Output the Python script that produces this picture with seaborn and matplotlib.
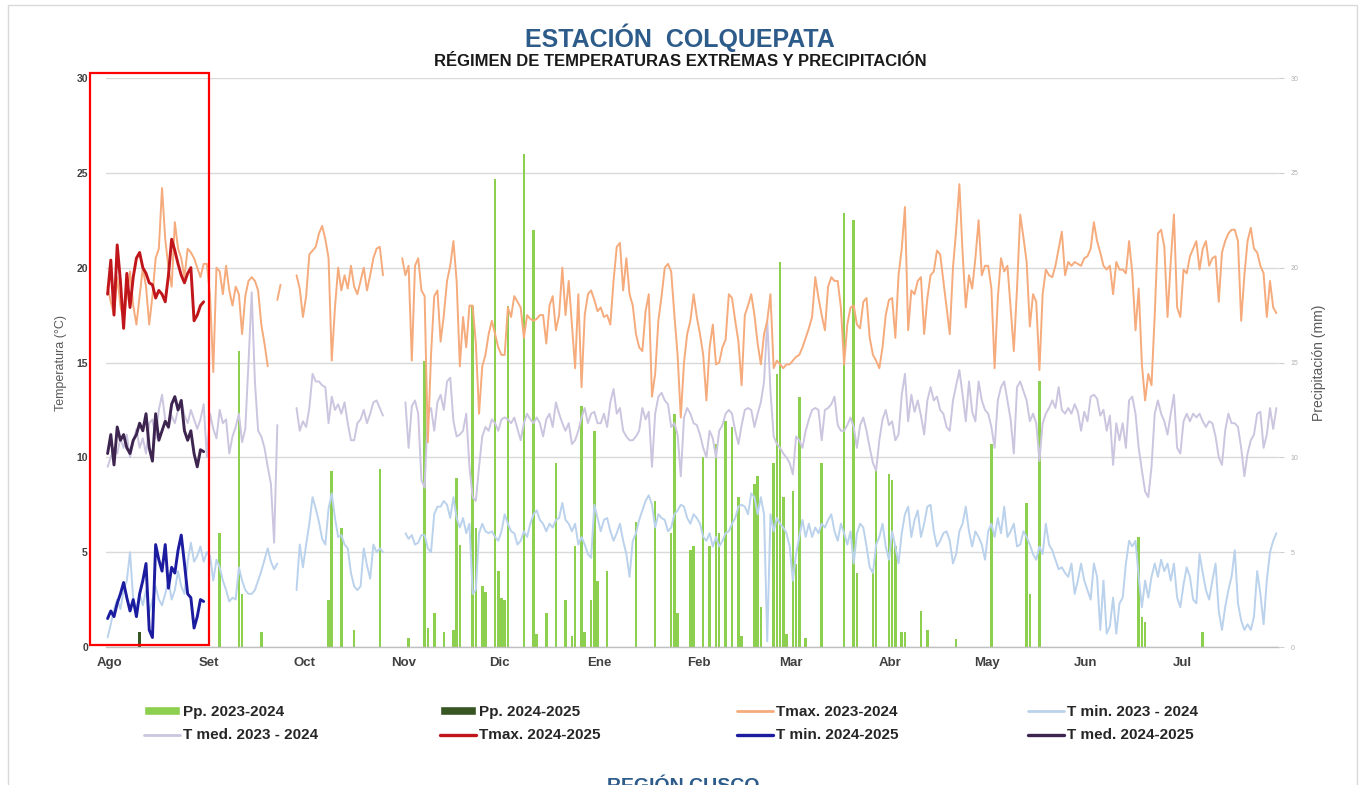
import numpy as np
import pandas as pd
import matplotlib
matplotlib.use("Agg")
import matplotlib.pyplot as plt
from matplotlib.patches import Rectangle, Patch
from matplotlib.lines import Line2D
import seaborn as sns

N = None
INICIO_2324 = "2023-08-01"
FIN_2324 = "2024-07-31"
INICIO_2425 = "2024-08-01"
MESES = ["Ago", "Set", "Oct", "Nov", "Dic", "Ene", "Feb", "Mar", "Abr", "May", "Jun", "Jul"]

# ---- Campaña 2023-2024 (diario, 1 ago 2023 - 31 jul 2024) ----
TMAX_2324 = [
    # Ago
    19.0, 18.2, 17.5, 19.5, 18.0, 17.2, 18.5, 19.8, 18.0, 17.0, 18.5, 20.0, 19.0, 17.0, 18.5, 20.5,
    21.0, 24.2, 21.5, 20.0, 19.0, 22.4, 21.0, 20.5, 19.5, 21.0, 20.8, 20.5, 20.0, 19.5, 20.2,
    # Set
    20.2, 18.5, 14.5, 20.0, 19.8, 18.6, 20.1, 18.8, 18.0, 19.0, 18.6, 16.5, 18.5, 19.3, 19.5,
    19.3, 18.8, 17.0, 16.0, 14.8, N, N, 18.3, 19.1, N, N, N, N, 19.6, 18.9,
    # Oct
    17.4, 18.5, 20.7, 20.9, 21.1, 21.8, 22.2, 21.5, 20.5, 15.1, 17.9, 20.0, 18.8, 19.6, 18.9, 20.1,
    19.0, 18.6, 19.3, 20.0, 18.8, 19.6, 20.5, 21.0, 21.1, 19.6, N, N, N, N, N,
    # Nov
    20.5, 19.6, 20.1, 15.1, 20.1, 20.5, 18.8, 18.5, 10.8, 15.4, 18.5, 18.8, 16.1, 17.5, 19.3,
    20.1, 21.4, 19.3, 14.8, 17.4, 15.8, 18.0, 18.0, 16.0, 12.3, 14.8, 15.4, 16.5, 17.2, 16.5,
    # Dic
    15.8, 15.4, 15.4, 17.9, 17.4, 18.5, 18.2, 17.9, 16.3, 17.5, 17.3, 17.2, 17.3, 17.5, 17.5, 16.0,
    18.0, 18.5, 16.7, 17.5, 20.0, 17.5, 19.3, 17.0, 14.7, 18.6, 13.7, 17.5, 18.6, 18.8, 18.3,
    # Ene
    17.7, 17.9, 17.4, 17.5, 17.0, 19.3, 21.1, 21.3, 18.8, 20.5, 18.6, 18.0, 16.5, 15.8, 15.6, 17.7,
    18.6, 13.2, 14.4, 17.2, 18.5, 20.0, 20.2, 19.8, 17.5, 15.4, 12.1, 15.0, 16.5, 17.2, 18.6,
    # Feb
    17.4, 16.5, 15.4, 13.0, 15.8, 17.0, 14.9, 15.0, 15.8, 16.2, 18.6, 18.4, 17.2, 16.1, 13.8,
    17.5, 18.0, 18.6, 17.5, 16.0, 14.9, 16.5, 17.2, 18.6, 14.7, 15.1, 14.9, 14.7, 14.9,
    # Mar
    14.9, 15.1, 15.3, 15.4, 15.8, 16.3, 16.8, 17.4, 19.5, 18.4, 17.5, 16.7, 19.0, 19.5, 19.3, 19.3,
    17.9, 14.9, 17.0, 17.9, 18.0, 17.0, 16.8, 18.2, 18.4, 16.3, 15.4, 15.1, 14.7, 15.8, 17.5,
    # Abr
    18.3, 18.4, 16.3, 19.6, 21.0, 23.2, 16.7, 18.8, 18.6, 19.3, 19.5, 16.5, 18.4, 19.6, 19.8,
    20.9, 20.7, 19.3, 17.9, 16.5, 20.0, 22.0, 24.4, 20.8, 17.9, 19.6, 18.9, 20.5, 22.5, 19.6,
    # May
    20.1, 20.1, 18.9, 14.7, 18.4, 20.5, 19.8, 20.1, 17.9, 15.6, 18.9, 22.8, 21.6, 20.3, 16.9, 18.6,
    18.2, 14.6, 18.6, 19.9, 19.6, 19.5, 20.1, 21.0, 21.9, 19.6, 20.3, 20.1, 20.3, 20.2, 20.1,
    # Jun
    20.5, 20.6, 21.0, 22.4, 21.4, 20.8, 20.1, 19.9, 20.1, 18.6, 20.3, 19.9, 19.9, 19.7, 21.4,
    19.7, 16.7, 18.9, 14.9, 13.0, 14.4, 13.8, 17.5, 21.8, 22.0, 21.1, 17.4, 20.3, 22.8, 17.9,
    # Jul
    17.4, 19.9, 19.7, 20.6, 21.0, 21.4, 19.9, 21.0, 21.4, 20.1, 20.5, 20.6, 18.2, 20.8, 21.4, 21.8,
    22.0, 22.0, 21.4, 17.2, 19.6, 21.4, 22.1, 21.0, 20.8, 20.1, 19.7, 17.4, 19.3, 17.9, 17.6,
]

TMED_2324 = [
    # Ago
    9.5, 10.0, 10.5, 10.2, 11.0, 10.5, 11.2, 10.0, 10.8, 11.5, 10.5, 11.0, 10.2, 11.8, 12.0, 11.0,
    12.5, 13.3, 12.0, 11.5, 12.2, 11.8, 12.5, 13.0, 12.2, 11.8, 12.5, 12.0, 11.5, 12.0, 12.8,
    # Set
    10.0, 12.3, 11.5, 11.0, 12.5, 11.8, 12.0, 10.2, 11.1, 11.6, 12.3, 10.8, 11.5, 15.0, 18.7,
    14.0, 11.4, 11.1, 10.5, 9.5, 8.6, 5.5, 11.7, N, N, N, N, N, 12.6, 11.4,
    # Oct
    11.9, 11.6, 12.6, 14.4, 14.0, 14.0, 13.8, 13.7, 11.8, 13.2, 12.5, 12.8, 12.3, 12.9, 11.8, 10.9,
    10.9, 11.8, 12.0, 12.5, 11.8, 12.3, 12.9, 13.0, 12.6, 12.2, N, N, N, N, N,
    # Nov
    N, 12.9, 10.5, 12.7, 13.0, 12.3, 8.8, 8.4, 12.3, 12.6, 11.4, 12.9, 13.3, 12.5, 14.0,
    14.2, 11.9, 11.1, 11.2, 11.4, 12.3, 9.5, 7.9, 7.7, 9.5, 11.1, 11.6, 11.4, 12.0, 11.8,
    # Dic
    11.4, 12.0, 12.1, 12.0, 11.8, 12.1, 11.5, 10.9, 11.8, 12.3, 12.0, 11.8, 12.1, 11.8, 11.1, 12.0,
    12.3, 11.6, 12.9, 12.3, 11.8, 11.4, 11.8, 10.7, 10.9, 11.4, 12.1, 12.6, 11.8, 12.3, 12.4,
    # Ene
    11.8, 11.8, 12.3, 11.6, 12.9, 13.6, 12.3, 12.6, 11.4, 11.1, 10.9, 10.9, 11.1, 11.4, 12.6, 12.0,
    12.4, 9.5, 12.3, 13.2, 13.4, 13.0, 12.8, 11.6, 11.8, 11.2, 9.0, 12.1, 12.6, 12.3, 11.8,
    # Feb
    11.7, 11.2, 10.5, 10.0, 11.4, 11.0, 10.0, 11.4, 11.7, 12.3, 12.5, 12.3, 11.4, 10.7, 11.7,
    12.5, 12.6, 12.5, 11.6, 12.3, 12.9, 14.0, 17.2, 13.5, 11.1, 10.7, 10.5, 10.2, 10.0,
    # Mar
    9.7, 9.1, 11.1, 10.9, 10.5, 11.4, 12.0, 12.5, 12.6, 12.5, 10.9, 12.5, 12.6, 12.8, 13.2, 11.7,
    11.4, 11.4, 11.7, 12.1, 11.6, 10.5, 11.7, 12.1, 11.4, 10.5, 9.7, 9.3, 10.9, 12.0, 12.5,
    # Abr
    11.7, 11.9, 10.9, 11.2, 13.3, 14.4, 11.9, 13.3, 12.4, 13.0, 12.2, 11.2, 13.0, 13.7, 13.0,
    13.2, 12.5, 12.3, 11.6, 11.4, 13.0, 13.8, 14.6, 13.3, 11.9, 14.0, 12.4, 11.9, 14.0, 13.0,
    # May
    12.5, 12.3, 11.6, 10.5, 13.0, 13.7, 14.0, 13.0, 12.0, 10.2, 13.7, 14.0, 13.5, 13.0, 11.9, 12.3,
    11.8, 9.8, 11.8, 12.3, 12.6, 13.0, 12.6, 13.7, 12.5, 12.3, 12.6, 12.3, 12.8, 12.4, 11.4,
    # Jun
    12.4, 11.9, 13.2, 13.3, 13.1, 12.2, 12.5, 11.4, 12.2, 9.6, 11.8, 10.9, 11.8, 10.5, 13.0,
    13.2, 12.3, 10.5, 9.3, 8.2, 7.9, 9.5, 12.3, 13.0, 12.3, 11.9, 11.2, 12.3, 13.3, 10.5,
    # Jul
    10.2, 11.9, 12.3, 11.9, 12.3, 12.1, 12.3, 11.9, 11.6, 11.9, 11.8, 11.1, 10.0, 9.6, 11.4, 12.3,
    11.8, 11.8, 11.6, 10.5, 9.0, 10.2, 10.9, 11.2, 12.3, 12.4, 10.5, 11.2, 12.6, 11.5, 12.6,
]

TMIN_2324 = [
    # Ago
    0.5, 1.2, 2.0, 2.5, 2.0, 3.0, 3.5, 5.0, 2.5, 2.0, 2.8, 2.2, 3.0, 1.8, 2.5, 3.2,
    2.5, 2.2, 2.8, 3.5, 2.5, 3.0, 4.0, 3.2, 2.8, 4.5, 5.5, 4.5, 4.8, 5.3, 4.5,
    # Set
    5.0, 4.8, 3.5, 4.6, 4.2, 3.5, 3.0, 2.4, 2.6, 2.5, 4.2, 3.5, 3.0, 2.8, 2.8,
    3.0, 3.5, 4.0, 4.6, 5.2, 4.5, 4.1, 4.4, N, N, N, N, N, 3.0, 5.4,
    # Oct
    4.2, 5.4, 6.5, 7.9, 7.3, 6.6, 5.7, 5.4, 7.3, 8.1, 6.8, 5.8, 5.9, 5.4, 5.2, 3.9,
    3.2, 3.0, 3.2, 5.2, 4.3, 3.6, 5.4, 5.0, 5.2, 5.0, N, N, N, N, N,
    # Nov
    N, 6.0, 5.7, 5.9, 5.4, 5.5, 5.9, 5.9, 5.2, 5.0, 7.0, 7.4, 7.4, 7.7, 7.5,
    6.8, 7.9, 6.8, 6.3, 6.8, 6.0, 6.5, 2.8, 3.0, 6.0, 6.5, 6.1, 6.0, 6.1, 5.8,
    # Dic
    5.6, 6.1, 7.0, 6.5, 6.1, 6.0, 5.4, 5.6, 6.1, 5.8, 6.5, 7.0, 7.2, 6.7, 6.5, 6.1,
    6.5, 6.3, 6.7, 6.8, 7.6, 6.7, 6.5, 6.1, 6.5, 5.4, 5.8, 5.4, 4.9, 4.7, 7.5,
    # Ene
    6.8, 6.1, 6.7, 6.8, 6.1, 5.6, 6.0, 6.5, 5.6, 4.9, 3.7, 5.6, 6.0, 6.7, 7.2, 7.7,
    8.0, 7.5, 6.3, 7.0, 6.8, 6.7, 6.1, 6.3, 7.0, 7.2, 7.5, 7.4, 6.8, 6.5, 7.0,
    # Feb
    6.8, 6.5, 5.8, 5.6, 6.0, 5.3, 5.8, 5.3, 5.6, 6.0, 6.1, 6.5, 6.8, 7.4, 7.5,
    7.4, 7.0, 8.1, 7.9, 7.0, 7.9, 7.0, 0.3, 7.0, 6.1, 6.8, 6.5, 6.3, 6.0,
    # Mar
    5.3, 3.5, 4.9, 5.8, 6.7, 5.8, 6.5, 5.8, 6.3, 6.0, 6.5, 6.3, 6.7, 7.0, 6.1, 5.6,
    6.5, 6.0, 5.4, 6.1, 4.4, 6.0, 6.5, 6.3, 5.3, 4.2, 3.9, 5.4, 5.8, 6.5, 5.3,
    # Abr
    4.6, 6.1, 5.3, 4.4, 6.0, 7.0, 7.4, 5.8, 6.7, 7.2, 5.8, 6.5, 7.4, 7.5, 6.1,
    5.3, 5.6, 6.0, 6.1, 5.6, 4.4, 4.9, 6.1, 6.5, 7.4, 6.1, 5.3, 6.1, 5.8, 5.4,
    # May
    4.6, 6.1, 6.5, 5.8, 6.8, 6.0, 7.4, 5.8, 6.1, 6.5, 5.3, 5.4, 6.1, 5.8, 5.4, 4.9,
    4.6, 5.3, 4.9, 6.5, 5.4, 5.1, 4.6, 4.1, 4.2, 3.9, 3.7, 4.4, 2.8, 3.5, 4.4,
    # Jun
    3.5, 3.0, 2.5, 4.4, 3.7, 0.9, 3.5, 0.7, 1.1, 2.6, 0.7, 2.3, 2.6, 4.4, 5.6,
    5.3, 5.6, 3.7, 2.1, 3.5, 2.6, 3.7, 4.4, 3.7, 4.6, 4.0, 4.4, 3.5, 4.4, 2.6,
    # Jul
    2.1, 3.3, 4.2, 3.7, 2.5, 2.3, 4.9, 3.9, 3.0, 2.5, 3.5, 4.4, 1.9, 0.9, 2.1, 3.0,
    3.7, 5.1, 2.3, 1.4, 0.9, 1.2, 0.9, 1.6, 4.0, 2.8, 1.2, 3.5, 5.0, 5.6, 6.0,
]

PP_2324_FECHA = [
    "2023-09-05", "2023-09-11", "2023-09-12", "2023-09-18",
    "2023-10-09", "2023-10-10", "2023-10-13", "2023-10-17", "2023-10-25",
    "2023-11-03", "2023-11-08", "2023-11-09", "2023-11-11", "2023-11-14", "2023-11-17",
    "2023-11-18", "2023-11-19", "2023-11-23", "2023-11-24", "2023-11-26", "2023-11-27", "2023-11-30",
    "2023-12-01", "2023-12-02", "2023-12-03", "2023-12-04", "2023-12-09", "2023-12-12", "2023-12-13",
    "2023-12-16", "2023-12-19", "2023-12-22", "2023-12-24", "2023-12-25", "2023-12-27", "2023-12-28",
    "2023-12-30", "2023-12-31",
    "2024-01-01", "2024-01-04", "2024-01-13", "2024-01-19", "2024-01-24", "2024-01-25", "2024-01-26",
    "2024-01-30", "2024-01-31",
    "2024-02-03", "2024-02-05", "2024-02-07", "2024-02-08", "2024-02-10", "2024-02-12", "2024-02-14",
    "2024-02-15", "2024-02-19", "2024-02-20", "2024-02-21", "2024-02-25", "2024-02-26", "2024-02-27",
    "2024-02-28", "2024-02-29",
    "2024-03-02", "2024-03-03", "2024-03-04", "2024-03-06", "2024-03-11", "2024-03-18", "2024-03-21",
    "2024-03-22", "2024-03-27", "2024-03-28",
    "2024-04-01", "2024-04-02", "2024-04-03", "2024-04-05", "2024-04-06", "2024-04-11", "2024-04-13",
    "2024-04-22",
    "2024-05-03", "2024-05-14", "2024-05-15", "2024-05-18",
    "2024-06-18", "2024-06-19", "2024-06-20", "2024-07-08",
]
PP_2324_MM = [
    6.0, 15.6, 2.8, 0.8,
    2.5, 9.3, 6.3, 0.9, 9.4,
    0.5, 15.1, 1.0, 1.8, 0.8, 0.9,
    8.9, 5.4, 18.0, 6.3, 3.2, 2.9, 24.7,
    4.0, 2.6, 2.5, 18.0, 26.0, 22.0, 0.7,
    1.8, 9.7, 2.5, 0.6, 5.3, 12.7, 0.8,
    2.5, 11.4,
    3.5, 4.0, 6.6, 7.7, 6.0, 12.3, 1.8,
    5.1, 5.3,
    10.0, 5.3, 10.7, 6.0, 11.9, 11.6, 7.9,
    0.6, 8.6, 9.0, 2.1, 9.7, 14.4, 20.3,
    7.9, 0.7,
    8.2, 4.4, 13.2, 0.5, 9.7, 22.9, 22.5,
    3.9, 4.1, 9.3,
    9.1, 8.8, 5.3, 0.8, 0.8, 1.9, 0.9,
    0.4,
    10.7, 7.6, 2.8, 14.0,
    5.8, 1.6, 1.3, 0.8,
]

# ---- Campaña 2024-2025 (agosto 2024) ----
TMAX_2425 = [18.6, 20.4, 17.5, 21.2, 19.3, 16.8, 19.7, 17.9, 19.5, 20.5, 20.8, 20.0, 19.7, 19.2, 19.1, 18.4,
             18.8, 18.6, 18.2, 19.6, 21.5, 20.9, 20.2, 19.6, 19.2, 19.7, 20.0, 17.2, 17.5, 18.0, 18.2]
TMED_2425 = [10.2, 11.2, 9.6, 11.6, 10.9, 11.2, 10.5, 10.2, 10.9, 11.2, 11.8, 11.4, 12.3, 10.5, 9.8, 12.3,
             10.9, 11.4, 11.9, 11.6, 12.8, 13.2, 12.5, 13.0, 11.4, 10.9, 11.4, 10.2, 9.5, 10.4, 10.3]
TMIN_2425 = [1.5, 1.9, 1.6, 2.3, 2.8, 3.4, 2.6, 1.9, 2.5, 1.6, 2.8, 3.5, 4.4, 0.9, 0.5, 5.4,
             4.6, 4.0, 5.4, 3.1, 4.2, 3.9, 5.1, 5.9, 4.4, 2.8, 2.6, 1.0, 1.6, 2.5, 2.4]
PP_2425_FECHA = ["2024-08-11"]
PP_2425_MM = [0.8]

# ---- estilos ----
C_PP1 = "#8DCF4E"
C_PP2 = "#375623"
C_TMAX1 = "#F5AB7C"
C_TMIN1 = "#BBD2EC"
C_TMED1 = "#CCC5DF"
C_TMAX2 = "#C0161B"
C_TMIN2 = "#1C1CA0"
C_TMED2 = "#3D2550"
C_TITLE = "#2E5C8A"

sns.set_style("white")
plt.rcParams["font.family"] = ["Liberation Sans", "DejaVu Sans"]

fechas = pd.date_range(INICIO_2324, FIN_2324, freq="D")
ndias = len(fechas)
for serie in (TMAX_2324, TMED_2324, TMIN_2324):
    assert len(serie) == ndias, len(serie)
dia = np.arange(ndias)

pp1 = np.zeros(ndias)
t0 = pd.Timestamp(INICIO_2324)
for f, v in zip(PP_2324_FECHA, PP_2324_MM):
    pp1[(pd.Timestamp(f) - t0).days] = v
n2 = len(TMAX_2425)
pp2 = np.zeros(n2)
t1 = pd.Timestamp(INICIO_2425)
for f, v in zip(PP_2425_FECHA, PP_2425_MM):
    pp2[(pd.Timestamp(f) - t1).days] = v

W, H = 1366, 785
fig = plt.figure(figsize=(W / 100, H / 100), dpi=100)
fig.patch.set_facecolor("white")
ax = fig.add_axes([106 / W, 1 - 647 / H, (1278 - 106) / W, (647 - 78) / H])

sns.barplot(x=dia, y=pp1, native_scale=True, color=C_PP1, saturation=1, width=0.8,
            errorbar=None, linewidth=0, ax=ax, zorder=2)
sns.barplot(x=dia[:n2], y=pp2, native_scale=True, color=C_PP2, saturation=1, width=0.8,
            errorbar=None, linewidth=0, ax=ax, zorder=2)


def trazar(valores, color, lw, z):
    s = pd.Series(valores, dtype=float)
    df = pd.DataFrame({"dia": np.arange(len(s)), "v": s})
    ok = s.notna()
    grupos = s.isna().cumsum()[ok]
    for _, seg in df[ok].groupby(grupos):
        sns.lineplot(data=seg, x="dia", y="v", color=color, linewidth=lw, ax=ax,
                     zorder=z, estimator=None, sort=False)


trazar(TMED_2324, C_TMED1, 1.4, 3)
trazar(TMIN_2324, C_TMIN1, 1.4, 3)
trazar(TMAX_2324, C_TMAX1, 1.4, 3)
trazar(TMAX_2425, C_TMAX2, 2.1, 4)
trazar(TMED_2425, C_TMED2, 2.1, 4)
trazar(TMIN_2425, C_TMIN2, 2.1, 4)

ax.set_xlim(-0.5, ndias - 0.5)
ax.set_ylim(0, 30)
ax.set_yticks(range(0, 31, 5))
ax.set_yticklabels([str(v) for v in range(0, 31, 5)], fontsize=7.5, fontweight="bold", color="#404040")
ax.tick_params(axis="y", length=0, pad=13)
inicio_mes = np.where(fechas.day == 1)[0]
ax.set_xticks(inicio_mes + 0.5)
ax.set_xticklabels(MESES, fontsize=9.5, fontweight="bold", color="#404040")
ax.tick_params(axis="x", length=0, pad=7)
ax.set_xlabel("")
ax.set_ylabel("Temperatura (°C)", fontsize=9, color="#595959")
ax.yaxis.set_label_coords(-0.033, 0.5)
ax.yaxis.grid(True, color="#D9D9D9", linewidth=1)
ax.xaxis.grid(False)
ax.set_axisbelow(True)
for k in ("left", "right", "top"):
    ax.spines[k].set_visible(False)
ax.spines["bottom"].set_color("#BFBFBF")
ax.spines["bottom"].set_linewidth(1)

ax2 = ax.twinx()
ax2.set_ylim(0, 30)
ax2.set_yticks(range(0, 31, 5))
ax2.set_yticklabels([str(v) for v in range(0, 31, 5)], fontsize=5, color="#B0B0B0")
ax2.tick_params(axis="y", length=4, color="#D0D0D0", pad=5)
for k in ax2.spines:
    ax2.spines[k].set_visible(False)
ax2.set_ylabel("Precipitación (mm)", fontsize=10, color="#595959", rotation=90, labelpad=10)
ax2.grid(False)

fig.text(0.4974, 1 - 38 / H, "ESTACIÓN  COLQUEPATA", ha="center", va="center",
         fontsize=18, fontweight="bold", color=C_TITLE)
fig.text(0.498, 1 - 61 / H, "RÉGIMEN DE TEMPERATURAS EXTREMAS Y PRECIPITACIÓN", ha="center", va="center",
         fontsize=12, fontweight="bold", color="#1A1A1A")
fig.text(0.5, 1 - 778 / H, "REGIÓN CUSCO", ha="center", va="top", fontsize=14,
         fontweight="bold", color=C_TITLE)

columnas = [
    (144, [(Patch(facecolor=C_PP1), "Pp. 2023-2024"), (Line2D([], [], color=C_TMED1, lw=2), "T med. 2023 - 2024")]),
    (440, [(Patch(facecolor=C_PP2), "Pp. 2024-2025"), (Line2D([], [], color=C_TMAX2, lw=2.4), "Tmax. 2024-2025")]),
    (737, [(Line2D([], [], color=C_TMAX1, lw=2), "Tmax. 2023-2024"), (Line2D([], [], color=C_TMIN2, lw=2.4), "T min. 2024-2025")]),
    (1028, [(Line2D([], [], color=C_TMIN1, lw=2), "T min. 2023 - 2024"), (Line2D([], [], color=C_TMED2, lw=2.4), "T med. 2024-2025")]),
]
for x0, items in columnas:
    leg = fig.legend([h for h, _ in items], [t for _, t in items], loc="upper left",
                     bbox_to_anchor=(x0 / W, 1 - 705 / H), frameon=False,
                     prop={"size": 11, "weight": "bold"},
                     handlelength=2.35, handleheight=0.5, handletextpad=0.2, labelspacing=0.62,
                     borderpad=0, borderaxespad=0)
    for t in leg.get_texts():
        t.set_color("#262626")

fig.add_artist(Rectangle((89.5 / W, 1 - 645 / H), (208.5 - 89.5) / W, (645 - 73) / H,
                         transform=fig.transFigure, fill=False, edgecolor="#FF0000", linewidth=1.6))
fig.add_artist(Rectangle((8 / W, -0.02), (1357 - 8) / W, 1.02 - 5 / H,
                         transform=fig.transFigure, fill=False, edgecolor="#D9D9D9", linewidth=1))

fig.savefig("out.png", dpi=100)
